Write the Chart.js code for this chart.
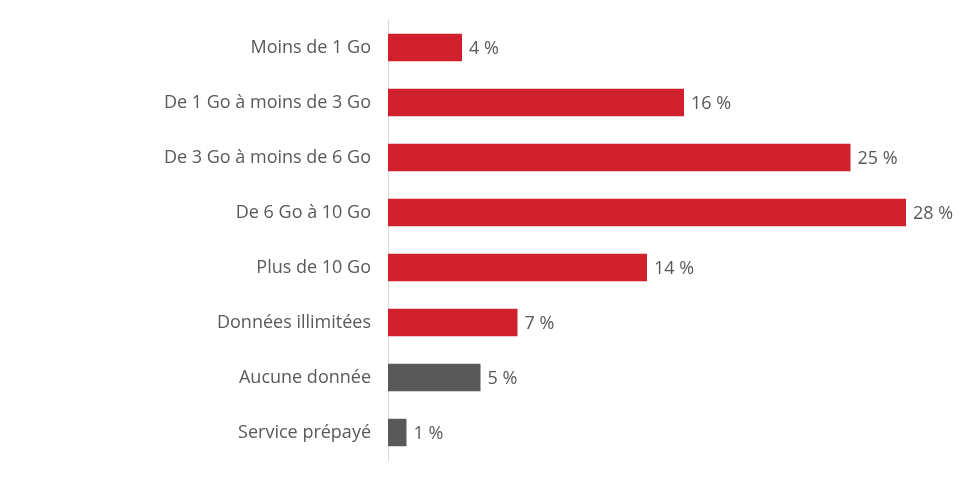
<!DOCTYPE html>
<html>
<head>
<meta charset="utf-8">
<script src="https://cdn.jsdelivr.net/npm/chart.js@4"></script>
<style>
    html, body { margin: 0; padding: 0; background: #ffffff; }
    #wrap { width: 960px; height: 479px; }
</style>
</head>
<body>
<div id="wrap"><canvas id="usageChart"></canvas></div>
<script>
// ==================== DATA ====================
const categories = [
    "Moins de 1 Go",
    "De 1 Go à moins de 3 Go",
    "De 3 Go à moins de 6 Go",
    "De 6 Go à 10 Go",
    "Plus de 10 Go",
    "Données illimitées",
    "Aucune donnée",
    "Service prépayé"
];
const shares = [4, 16, 25, 28, 14, 7, 5, 1];
const barColors = ["#cf202b", "#cf202b", "#cf202b", "#cf202b", "#cf202b", "#cf202b", "#595959", "#595959"];

// ==================== VALUE LABELS ====================
const valueLabels = {
    id: 'valueLabels',
    afterDatasetsDraw(chart) {
        let ctx = chart.ctx;
        let meta = chart.getDatasetMeta(0);
        ctx.save();
        ctx.font = "18px 'Open Sans'";
        ctx.fillStyle = "#595959";
        ctx.textAlign = "left";
        ctx.textBaseline = "middle";
        meta.data.forEach((bar, i) => {
            ctx.fillText(shares[i] + " %", bar.x + 7, bar.y + 1);
        });
        ctx.restore();
    }
};

new Chart(document.getElementById('usageChart').getContext('2d'), {
    type: 'bar',
    data: {
        labels: categories,
        datasets: [{
            data: shares,
            backgroundColor: barColors,
            borderWidth: 0,
            barPercentage: 0.5,
            categoryPercentage: 1
        }]
    },
    options: {
        indexAxis: 'y',
        responsive: true,
        maintainAspectRatio: false,
        animation: false,
        layout: { padding: { top: 20, bottom: 19, right: 54, left: 0 } },
        plugins: {
            legend: { display: false },
            tooltip: { enabled: false }
        },
        scales: {
            x: { display: false, min: 0, max: 28 },
            y: {
                afterFit(scale) {
                    scale.width = 388;
                    scale.paddingTop = 0;
                    scale.paddingBottom = 0;
                },
                grid: { display: false, drawTicks: false },
                border: { display: true, color: "#d9d9d9", width: 1 },
                ticks: {
                    padding: 17,
                    color: "#595959",
                    font: { family: "'Open Sans'", size: 18 }
                }
            }
        }
    },
    plugins: [valueLabels]
});
</script>
</body>
</html>
